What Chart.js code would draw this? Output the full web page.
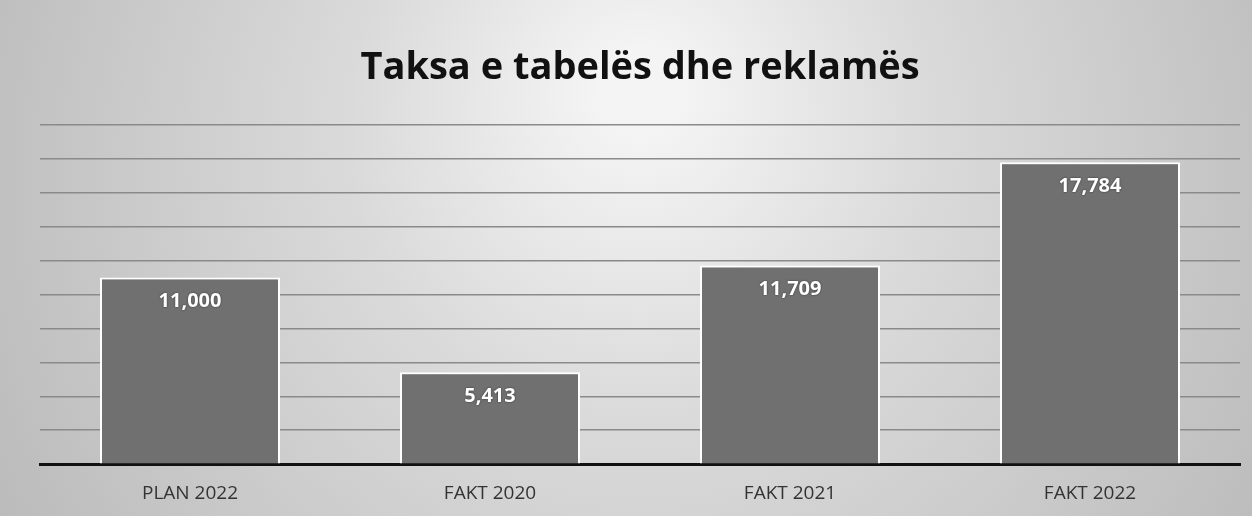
<!DOCTYPE html>
<html>
<head>
<meta charset="utf-8">
<script src="https://cdn.jsdelivr.net/npm/chart.js@4"></script>
<style>
  html, body { margin: 0; padding: 0; }
  body { width: 1252px; height: 516px; overflow: hidden; }
  #wrap { width: 1252px; height: 516px; }
</style>
</head>
<body>
<div id="wrap"><canvas id="taksa"></canvas></div>
<script>
const title = "Taksa e tabelës dhe reklamës";
const categories = ["PLAN 2022", "FAKT 2020", "FAKT 2021", "FAKT 2022"];
const values = [11000, 5413, 11709, 17784];

// light centre, grey edges like the scanned slide
const backdrop = {
  id: "backdrop",
  beforeDraw(chart) {
    const { ctx, width, height } = chart;
    const g = ctx.createRadialGradient(640, 90, 40, 640, 200, 760);
    g.addColorStop(0, "#f4f4f4");
    g.addColorStop(0.35, "#dadada");
    g.addColorStop(1, "#b8b8b8");
    ctx.save();
    ctx.fillStyle = g;
    ctx.fillRect(0, 0, width, height);
    ctx.restore();
  },
};

// white value labels near the top of each bar
const barLabels = {
  id: "barLabels",
  afterDatasetsDraw(chart) {
    const { ctx } = chart;
    const meta = chart.getDatasetMeta(0);
    ctx.save();
    ctx.font = "bold 20px 'Open Sans', sans-serif";
    ctx.textAlign = "center";
    ctx.textBaseline = "middle";
    ctx.fillStyle = "#ffffff";
    ctx.shadowColor = "rgba(0,0,0,0.6)";
    ctx.shadowBlur = 2;
    meta.data.forEach((bar, i) => {
      ctx.fillText(values[i].toLocaleString("en-US"), bar.x, bar.y + 24);
    });
    ctx.restore();
  },
};

new Chart(document.getElementById("taksa"), {
  type: "bar",
  data: {
    labels: categories,
    datasets: [
      {
        data: values,
        backgroundColor: "#707070",
        borderColor: "#ffffff",
        borderWidth: 2,
        categoryPercentage: 0.6,
        barPercentage: 1,
      },
    ],
  },
  options: {
    responsive: true,
    maintainAspectRatio: false,
    animation: false,
    layout: { padding: { left: 40, right: 12, top: 10, bottom: 1 } },
    plugins: {
      legend: { display: false },
      tooltip: { enabled: false },
      title: {
        display: true,
        text: title,
        color: "#111111",
        font: { family: "'Open Sans', sans-serif", size: 38, weight: "bold" },
        padding: { top: 35, bottom: 34 },
      },
    },
    scales: {
      x: {
        grid: { display: false },
        border: { display: true, color: "#111111", width: 3 },
        ticks: {
          color: "#333333",
          font: { family: "'Open Sans', sans-serif", size: 19 },
          padding: 10,
        },
      },
      y: {
        min: 0,
        max: 20000,
        display: true,
        border: { display: false },
        grid: { color: "#8a8a8a", lineWidth: 1.5, drawTicks: false },
        ticks: { display: false, stepSize: 2000 },
      },
    },
  },
  plugins: [backdrop, barLabels],
});
</script>
</body>
</html>
